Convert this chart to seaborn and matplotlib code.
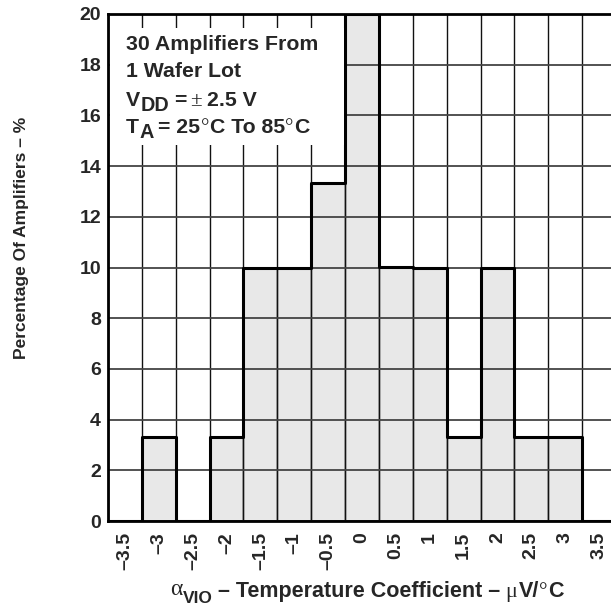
import matplotlib
matplotlib.use('Agg')
import matplotlib.pyplot as plt
import seaborn as sns
import numpy as np
import pandas as pd
from matplotlib.patches import Rectangle

# ---------------- data ----------------
bin_centers = [-3.5, -3.0, -2.5, -2.0, -1.5, -1.0, -0.5, 0.0, 0.5, 1.0, 1.5, 2.0, 2.5, 3.0, 3.5]
percent = [0, 3.33, 0, 3.33, 10, 10, 13.33, 20, 10, 10, 3.33, 10, 3.33, 3.33, 0]
x_tick_labels = ['–3.5', '–3', '–2.5', '–2', '–1.5', '–1', '–0.5', '0',
                 '0.5', '1', '1.5', '2', '2.5', '3', '3.5']
y_ticks = [0, 2, 4, 6, 8, 10, 12, 14, 16, 18, 20]
y_label = 'Percentage Of Amplifiers – %'
box_line1 = '30 Amplifiers From'
box_line2 = '1 Wafer Lot'

W, H = 611, 608
sns.set_theme(style='white')
plt.rcParams['font.family'] = ['Liberation Sans', 'DejaVu Sans']
plt.rcParams['font.weight'] = 'bold'

df = pd.DataFrame({'coef': bin_centers, 'pct': percent})
bw = 0.5
edges = [c - bw / 2 for c in bin_centers] + [bin_centers[-1] + bw / 2]

fig = plt.figure(figsize=(W / 100, H / 100), dpi=100)
ax = fig.add_axes([108 / W, 87 / H, 508 / W, 507 / H])

sns.histplot(data=df, x='coef', weights='pct', bins=edges, element='bars',
             color='#e8e8e8', edgecolor='#555555', linewidth=1.0, alpha=1, ax=ax)
sns.histplot(data=df, x='coef', weights='pct', bins=edges, element='step',
             fill=False, color='black', linewidth=2.2, ax=ax)

ax.set_xlim(edges[0], edges[-1])
ax.set_ylim(0, 20)
ax.set_xlabel('')
ax.set_ylabel('')
ax.set_xticks(bin_centers)
ax.set_xticklabels(x_tick_labels, rotation=90, fontsize=14, fontweight='bold')
ax.set_xticks(edges, minor=True)
ax.set_yticks(y_ticks)
ax.set_yticklabels([str(v) for v in y_ticks], fontsize=14, fontweight='bold')
ax.tick_params(axis='both', which='both', length=0)
ax.tick_params(axis='x', pad=8)
ax.tick_params(axis='y', pad=5)
ax.set_axisbelow('line')
ax.grid(False)
ax.grid(which='minor', axis='x', color='#111111', linewidth=1.0)
ax.grid(which='major', axis='y', color='#444444', linewidth=1.3)
for s in ax.spines.values():
    s.set_color('black')
    s.set_linewidth(2.0)

# white box behind annotation
ax.add_patch(Rectangle((0.004, 0.7416), 0.461, 0.2308, transform=ax.transAxes,
                       facecolor='white', edgecolor='none', zorder=4))

fs_box = 15.3
ax.text(0.0354, (521 - 50) / 507, box_line1, transform=ax.transAxes, fontsize=fs_box,
        fontweight='bold', va='baseline', ha='left', zorder=5)
ax.text(0.0354, (521 - 77) / 507, box_line2, transform=ax.transAxes, fontsize=fs_box,
        fontweight='bold', va='baseline', ha='left', zorder=5)

SANS = dict(fontweight='bold', family=['Liberation Sans', 'DejaVu Sans'])
SERIF = dict(fontweight='normal', family=['Liberation Serif', 'DejaVu Serif'])


def run(pieces, y_base_px, x_left_px=None, x_center_px=None):
    """pieces: (text, size, style, dy_px, gap_before_px)"""
    arts = []
    for t, size, style, dy, gap in pieces:
        a = fig.text(0, 0, t, fontsize=size, va='baseline', ha='left', zorder=6, **style)
        arts.append(a)
    fig.canvas.draw()
    r = fig.canvas.get_renderer()
    widths = [a.get_window_extent(r).width for a in arts]
    total = sum(widths) + sum(p[4] for p in pieces)
    x = x_left_px if x_left_px is not None else x_center_px - total / 2
    for a, w, p in zip(arts, widths, pieces):
        x += p[4]
        a.set_position((x / W, (H - (y_base_px + p[3])) / H))
        x += w
    return arts


# box lines with subscripts
run([('V', fs_box, SANS, 0, 0), ('DD', fs_box - 1, SANS, 5, 0),
     ('=', fs_box, SANS, 0, 5), ('±', fs_box, SERIF, 0, 4), ('2.5 V', fs_box, SANS, 0, 5)],
    y_base_px=106, x_left_px=126)
run([('T', fs_box, SANS, 0, 0), ('A', fs_box - 1, SANS, 5, 0),
     ('= 25', fs_box, SANS, 0, 5), ('°', fs_box, SERIF, 0, 0.5), ('C To 85', fs_box, SANS, 0, 0.5),
     ('°', fs_box, SERIF, 0, 0.5), ('C', fs_box, SANS, 0, 0.5)],
    y_base_px=133, x_left_px=126)

# x axis label
fs_lab = 15.5
run([('α', 17, SERIF, -2, 0), ('VIO', 12.5, SANS, 6, 0),
     ('– Temperature Coefficient –', fs_lab, SANS, 0, 6),
     ('μ', 16, SERIF, 0, 5), ('V/', fs_lab, SANS, 0, 1),
     ('°', fs_lab, SERIF, 0, 0.5), ('C', fs_lab, SANS, 0, 0.5)],
    y_base_px=597, x_center_px=367)

# y axis label
fig.text(22 / W, 1 - 238 / H, y_label, rotation=90, fontsize=12.5, fontweight='bold',
         va='center', ha='center')

fig.savefig('out.png', dpi=100)
